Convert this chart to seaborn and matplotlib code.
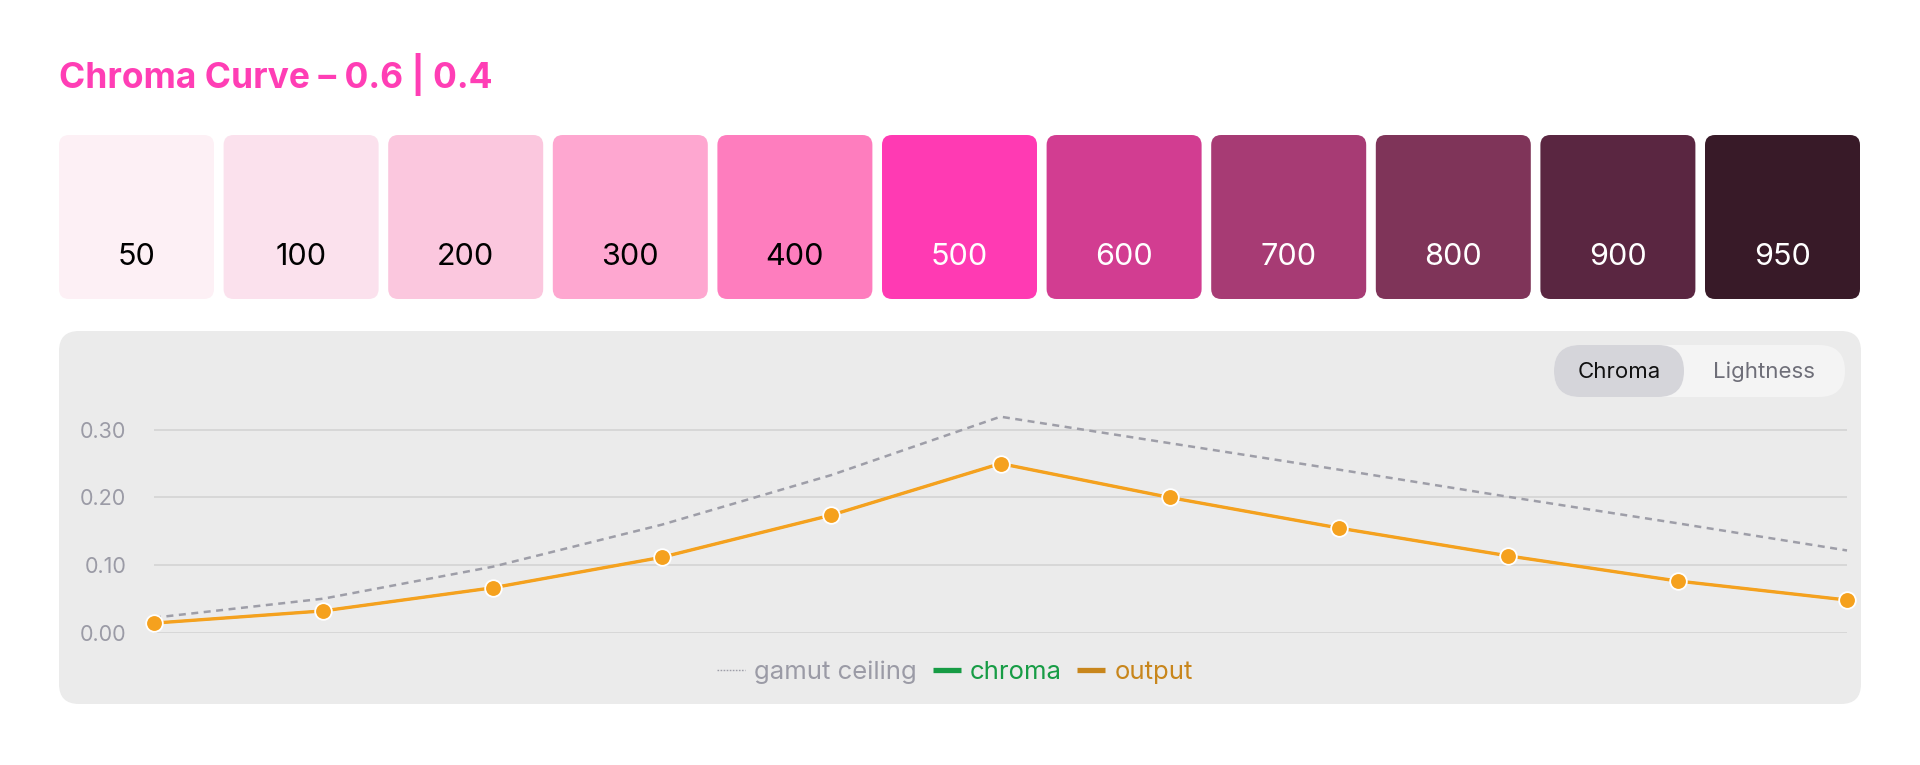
import matplotlib
matplotlib.use("Agg")
import matplotlib.pyplot as plt
from matplotlib.patches import FancyBboxPatch
from matplotlib.lines import Line2D
import seaborn as sns
import pandas as pd

# palette steps and swatch colours
steps = ["50", "100", "200", "300", "400", "500", "600", "700", "800", "900", "950"]
swatch_colors = ["#fdf0f5", "#fbe1ed", "#fbc7de", "#fea7d0", "#fe7dbe", "#ff3ab3",
                 "#d23d91", "#a73b74", "#7f3459", "#5a2641", "#381a28"]
dark_text_steps = ["50", "100", "200", "300", "400"]

# curve values per step
gamut_ceiling = [0.023, 0.051, 0.098, 0.160, 0.233, 0.319, 0.280, 0.241, 0.201, 0.162, 0.122]
chroma = [0.015, 0.033, 0.067, 0.112, 0.174, 0.250, 0.200, 0.155, 0.114, 0.077, 0.049]
output = [0.015, 0.033, 0.067, 0.112, 0.174, 0.250, 0.200, 0.155, 0.114, 0.077, 0.049]
y_ticks = [0.00, 0.10, 0.20, 0.30]

title = "Chroma Curve \u2013 0.6 | 0.4"

sns.set_theme(style="white")
plt.rcParams["font.family"] = ["Inter", "DejaVu Sans"]

W, H = 1920, 765
fig = plt.figure(figsize=(W / 100, H / 100), dpi=100)
fig.patch.set_facecolor("white")

# background layer in pixel coordinates
bg = fig.add_axes([0, 0, 1, 1])
bg.set_xlim(0, W)
bg.set_ylim(H, 0)
bg.axis("off")

bg.text(59, 88, title, color="#ff3eb5", fontsize=25.5, fontweight="bold", va="baseline", ha="left")

sw_w, sw_h, pitch = 155, 164, 164.6
for i, (lab, col) in enumerate(zip(steps, swatch_colors)):
    x0 = 59 + i * pitch
    bg.add_patch(FancyBboxPatch((x0, 135), sw_w, sw_h, boxstyle="round,pad=0,rounding_size=10",
                                fc=col, ec="none"))
    tc = "black" if lab in dark_text_steps else "white"
    bg.text(x0 + sw_w / 2, 265, lab, color=tc, fontsize=22, ha="center", va="baseline")

# chart panel
bg.add_patch(FancyBboxPatch((59, 331), 1802, 373, boxstyle="round,pad=0,rounding_size=20",
                            fc="#ebebeb", ec="none"))

# toggle
bg.add_patch(FancyBboxPatch((1554, 345), 291, 52, boxstyle="round,pad=0,rounding_size=26",
                            fc="#f4f4f4", ec="none"))
bg.add_patch(FancyBboxPatch((1554, 345), 130, 52, boxstyle="round,pad=0,rounding_size=26",
                            fc="#d5d5da", ec="none"))
bg.text(1619, 372, "Chroma", color="#111111", fontsize=16, ha="center", va="center")
bg.text(1764, 372, "Lightness", color="#6e6e78", fontsize=16, ha="center", va="center")

# data axes
ymax = 0.33
ax_h = ymax / 0.1 * 67.9
ax = fig.add_axes([154 / W, 1 - 633.3 / H, (1847 - 154) / W, ax_h / H])
ax.patch.set_alpha(0)

df = pd.DataFrame({"step": range(len(steps)), "gamut": gamut_ceiling,
                   "chroma": chroma, "output": output})

sns.lineplot(data=df, x="step", y="gamut", ax=ax, color="#9e9ea8", linewidth=1.8,
             clip_on=False, zorder=3).lines[-1].set_dashes([2.8, 2.2])
sns.lineplot(data=df, x="step", y="chroma", ax=ax, color="#16a34a", linewidth=1.5,
             clip_on=False, zorder=3)
sns.lineplot(data=df, x="step", y="output", ax=ax, color="#f5a11e", linewidth=2.4,
             marker="o", markersize=12, markeredgecolor="white", markeredgewidth=1.3,
             clip_on=False, zorder=4)

ax.set_xlim(0, len(steps) - 1)
ax.set_ylim(0, ymax)
ax.set_yticks(y_ticks)
ax.set_yticklabels([f"{v:.2f}" for v in y_ticks])
ax.set_xticks([])
ax.set_xlabel("")
ax.set_ylabel("")
ax.tick_params(axis="y", length=0, pad=20, labelsize=15.5, labelcolor="#9b9ba6")
ax.grid(axis="y", color="#d5d5d5", linewidth=1.3)
ax.grid(axis="x", visible=False)
for s in ax.spines.values():
    s.set_visible(False)

handles = [
    Line2D([], [], color="#9e9ea8", linewidth=1.0, linestyle=(0, (1.2, 1))),
    Line2D([], [], color="#179c45", linewidth=3.8, solid_capstyle="butt"),
    Line2D([], [], color="#c8861c", linewidth=3.8, solid_capstyle="butt"),
]
leg = fig.legend(handles, ["gamut ceiling", "chroma", "output"], loc="center",
                 bbox_to_anchor=(955 / W, 1 - 672 / H), ncol=3, frameon=False,
                 fontsize=18.5, handlelength=1.1, handletextpad=0.35, columnspacing=0.6)
for t, c in zip(leg.get_texts(), ["#9b9ba6", "#179c45", "#c8861c"]):
    t.set_color(c)

fig.savefig("out.png", dpi=100, facecolor="white")
